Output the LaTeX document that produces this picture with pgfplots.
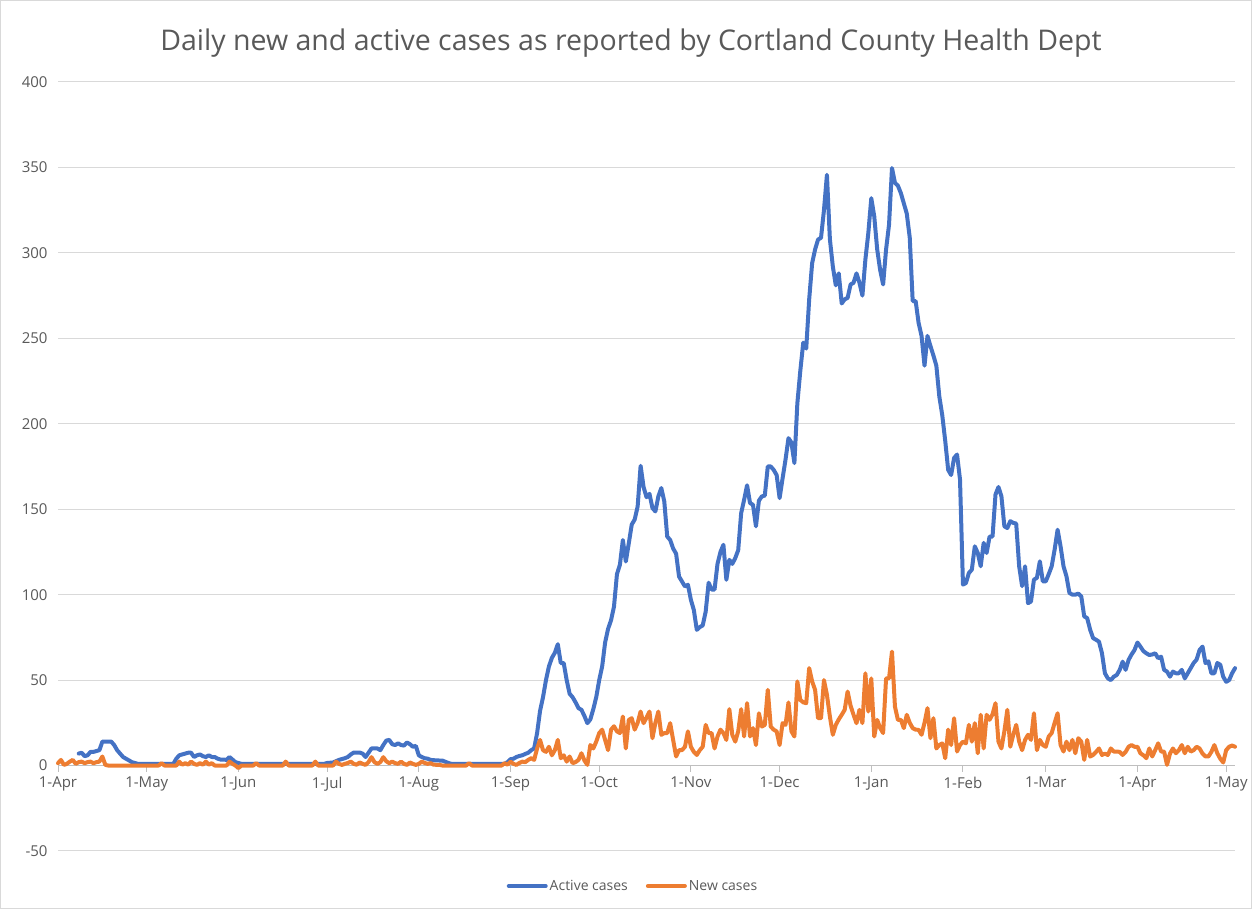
\documentclass[border=0pt]{standalone}
\usepackage{fontspec}
\setmainfont{Open Sans}
\usepackage{pgfplots}
\pgfplotsset{compat=1.18}
\usepackage{pgfplotstable}
\definecolor{actblue}{HTML}{4472C4}
\definecolor{neworange}{HTML}{ED7D31}
\definecolor{txtgray}{HTML}{595959}
\definecolor{gridgray}{HTML}{D9D9D9}
\definecolor{axgray}{HTML}{BFBFBF}

% day 0 = 1-Apr-2020
\pgfplotstableread{
day val
7 7
8 7.5
9 5.5
10 6
11 8
12 8
13 8.5
14 9
15 14
16 14
17 14
18 14
19 12
20 9
21 7
22 5
23 4
24 3
25 2
26 1.5
27 1
39 1
40 4
41 6
42 6.5
43 7
44 7.5
45 7.5
46 5
47 6
48 6.5
49 5.5
50 5
51 6
52 5
53 5
54 4
55 3.5
56 3.5
57 3.3
58 5
59 3.5
60 2
61 1.5
62 1
90 1
91 1.5
93 1.8
95 3.3
97 4.3
98 5
99 6.5
100 7.6
101 7.6
102 7.6
103 7
104 5
105 7.5
106 10
107 10
108 10
109 9
110 12
111 14.6
112 15
113 12.5
114 12
115 13
116 12
117 11.7
118 13.5
119 12.5
120 11
121 11.5
122 6
123 5
124 4.3
125 4
126 3.3
128 3
130 2.9
132 1.5
133 1
151 1
152 2
153 3.7
154 4
155 5
156 5.6
157 6
158 6.8
159 7.5
160 9
161 10
162 19
163 32
164 40
165 50
166 58
167 63
168 66
169 71
170 60
171 60
172 50
173 42
174 40
175 37
176 33.6
177 32.6
178 29
179 24.8
180 27
181 33
182 40
183 50
184 58
185 72
186 80
187 85
188 93
189 112
190 117.5
191 132
192 119.4
193 130
194 141
195 144
196 151.6
197 175.4
198 163
199 157
200 159
201 150.7
202 148.7
203 157.5
204 162.4
205 154.6
206 134
207 132
208 127
209 124
210 110.6
211 107.7
212 104.8
213 105.8
214 97
215 91
216 79.4
217 81
218 82
219 90
220 107
221 103
222 103
223 118
224 125
225 129.2
226 108.7
227 120.4
228 118
229 121.4
230 126
231 147.7
232 155.5
233 164
234 153.6
235 152.6
236 140
237 155
238 157.5
239 158
240 175
241 175
242 173
243 170
244 156.5
245 168
246 179
247 191.6
248 189
249 177
250 212
251 231
252 247.5
253 244
254 272.8
255 294
256 302
257 307.8
258 308.8
259 325
260 345.7
261 308
262 292
263 281
264 288
265 270.4
266 272.8
267 273.7
268 281.5
269 282.5
270 288
271 282.5
272 275
273 296
274 311.7
275 332
276 321.4
277 302
278 290
279 281.5
280 302
281 316.5
282 349.6
283 341
284 339.3
285 335
286 329
287 323
288 309
289 271.8
290 271.8
291 259
292 251.4
293 234
294 251.4
295 245.5
296 240
297 234
298 216
299 205
300 190
301 173
302 170
303 180
304 182
305 167.4
306 105.9
307 106.8
308 112.7
309 114.6
310 128.3
311 124.4
312 116.6
313 130.3
314 124.4
315 134
316 134
317 158.6
318 163
319 157.6
320 140
321 139
322 143
323 142
324 141.6
325 116.6
326 105
327 116.6
328 95
329 96
330 108.8
331 109.8
332 119.5
333 107.8
334 107.8
335 112
336 116.6
337 126.4
338 138
339 128.3
340 116.6
341 110.7
342 101
343 100
344 100
345 100.6
346 99
347 87.3
348 86.3
349 79.5
350 74.6
351 73.6
352 72.5
353 65.7
354 54
355 51
356 50
357 52
358 53
359 56
360 60.8
361 56
362 61.8
363 65
364 67.6
365 72
366 69.6
367 67
368 65.7
369 64.7
370 65
371 65.7
372 62.8
373 63.7
374 56
375 55
376 52
377 55
378 54
379 54
380 56
381 51
382 54
383 57
384 60
385 62
386 67.6
387 69.6
388 60
389 61
390 54
391 54
392 60
393 59
394 52
395 49
396 50
397 54
398 57
}\activetab

\pgfplotstableread{
day val
0 1.4
1 3.3
2 0.4
3 1
4 2.3
5 3.3
6 1
7 2
8 2.3
9 1.4
10 2
11 2.3
12 1.4
13 2
14 2.3
15 5.3
16 0.4
17 0
34 0
35 1.4
36 0
40 0
41 2.3
42 0.5
43 1.4
44 0.5
45 2.3
46 1
47 0.4
48 1.4
49 0.5
50 2.3
51 0.5
52 1.4
53 0
57 0
58 2.3
59 1
60 0
61 -1.5
62 0
66 0
67 1.4
68 0
76 0
77 2.3
78 0
86 0
87 2.3
88 0
93 0
94 2.3
95 1
96 0.4
97 1
98 1.5
99 2.3
100 1
101 0.5
102 1.8
103 1
104 0.4
105 2
106 4.9
107 2
108 1
109 2
110 4.9
111 2.5
112 1.4
113 2.3
114 1.4
115 1
116 2.3
117 1
118 0.4
119 1.8
120 1
121 0.4
122 1
123 2.3
124 1.5
125 1
126 1.4
127 0.5
129 0.4
130 0
138 0
139 1.4
140 0
150 0
151 1.4
152 0.5
153 2.3
154 1
155 0.4
156 1.5
157 2.3
158 2
159 3.3
160 4.3
161 3.3
162 10
163 15
164 9
165 8
166 11
167 6
168 9
169 15
170 4.3
171 6
172 2.3
173 5.3
174 1.4
175 2
176 3.3
177 7.2
178 3
179 0.4
180 12
181 10
182 14
183 19
184 21
185 15
186 9
187 21
188 23
189 20
190 19
191 28.7
192 10
193 26.7
194 27.7
195 21
196 25
197 31.6
198 24.8
199 28
200 31.6
201 16
202 25
203 31.6
204 18
205 19
206 19
207 24.8
208 15
209 5.3
210 9
211 9
212 11
213 20
214 11
215 8
216 6.2
217 9
218 11
219 23.8
220 19
221 19
222 10
223 17
224 21
225 19
226 15
227 33
228 18
229 14
230 20
231 33
232 17
233 36.5
234 17
235 21.9
236 12
237 30.6
238 22.8
239 23.8
240 44.3
241 22.8
242 21
243 20
244 12
245 24.8
246 23.8
247 36.9
248 20
249 17
250 49.2
251 38.4
252 37
253 36.5
254 57
255 49.2
256 44.3
257 27.7
258 27.7
259 50
260 41.4
261 28.7
262 18
263 23.8
264 27
265 29.7
266 32.6
267 43.3
268 35
269 29.7
270 24.8
271 32.6
272 24.8
273 54
274 31.6
275 51
276 17
277 26.7
278 22
279 19
280 51
281 51
282 66.7
283 34.5
284 26.7
285 26.8
286 21.9
287 29.7
288 25
289 21.9
290 21
291 20.9
292 18
293 25
294 33.6
295 16
296 27.7
297 10
298 12
299 13
300 4.3
301 21
302 12
303 27.7
304 8.2
305 12
306 14
307 13
308 23.8
309 14
310 24.8
311 7.2
312 29.7
313 10
314 29.7
315 26.8
316 30
317 36.5
318 14
319 10
320 20
321 32.6
322 11
323 18
324 23.8
325 14
326 9
327 15
328 18
329 15
330 30.6
331 9
332 15
333 12
334 11
335 17
336 19
337 25
338 30.6
339 12
340 8.2
341 14
342 9
343 15
344 7.2
345 16
346 14
347 3.3
348 15
349 5.3
350 6.2
351 8
352 10
353 6.2
354 7
355 6.2
356 10
357 8.2
358 8.2
359 8
360 6.2
361 8
362 11
363 12
364 11
365 11
366 7.2
367 6
368 4.3
369 10
370 5.3
371 9
372 13
373 8.2
374 8.2
375 0.4
376 7
377 10
378 7.2
379 9
380 12
381 7.2
382 11
383 8.2
384 9
385 11
386 10
387 7
388 5.3
389 5.3
390 8
391 12
392 7.2
393 4
394 1.8
395 9
396 11
397 11.7
398 11
}\newtab

\begin{document}
\begin{tikzpicture}[x=1bp,y=1bp]
\path[use as bounding box] (0,0) rectangle (1252,909);
\draw[gridgray, line width=1bp] (0.5,0.5) rectangle (1251.5,908.5);
\node[font=\fontsize{28.5bp}{34bp}\selectfont, text=txtgray] at (631,866) {Daily new and active cases as reported by Cortland County Health Dept};
\begin{axis}[
  at={(58bp,58bp)}, anchor=south west,
  scale only axis, width=1177bp, height=769bp,
  xmin=0, xmax=398, ymin=-50, ymax=400,
  axis x line=middle, axis y line=left,
  axis line style={-},
  x axis line style={axgray, line width=1bp},
  y axis line style={draw=none},
  hide obscured x ticks=false, hide obscured y ticks=false,
  xtick={0,30,61,91,122,153,183,214,244,275,306,334,365,395},
  xticklabels={1-Apr,1-May,1-Jun,1-Jul,1-Aug,1-Sep,1-Oct,1-Nov,1-Dec,1-Jan,1-Feb,1-Mar,1-Apr,1-May},
  ytick={-50,0,50,100,150,200,250,300,350,400},
  yticklabels={-50,0,50,100,150,200,250,300,350,400},
  ymajorgrids, grid style={gridgray, line width=1bp},
  xtick style={axgray, line width=1bp}, xtick align=outside,
  major tick length=6bp,
  ytick style={draw=none},
  tick label style={font=\fontsize{15bp}{18bp}\selectfont, text=txtgray},
  xticklabel style={yshift=-2bp},
  yticklabel style={xshift=-4bp},
  legend style={at={(0.4885,-0.0455)}, anchor=center, draw=none, fill=none,
    legend columns=2, font=\fontsize{14bp}{17bp}\selectfont, text=txtgray,
    /tikz/every even column/.append style={column sep=16bp}},
  legend image code/.code={\draw[#1] (0bp,0bp) -- (37bp,0bp);},
  clip=false,
]
\addplot[actblue, line width=4bp, line join=round, line cap=round] table[x=day,y=val] {\activetab};
\addlegendentry{Active cases}
\addplot[neworange, line width=4bp, line join=round, line cap=round] table[x=day,y=val] {\newtab};
\addlegendentry{New cases}
\end{axis}
\end{tikzpicture}
\end{document}
